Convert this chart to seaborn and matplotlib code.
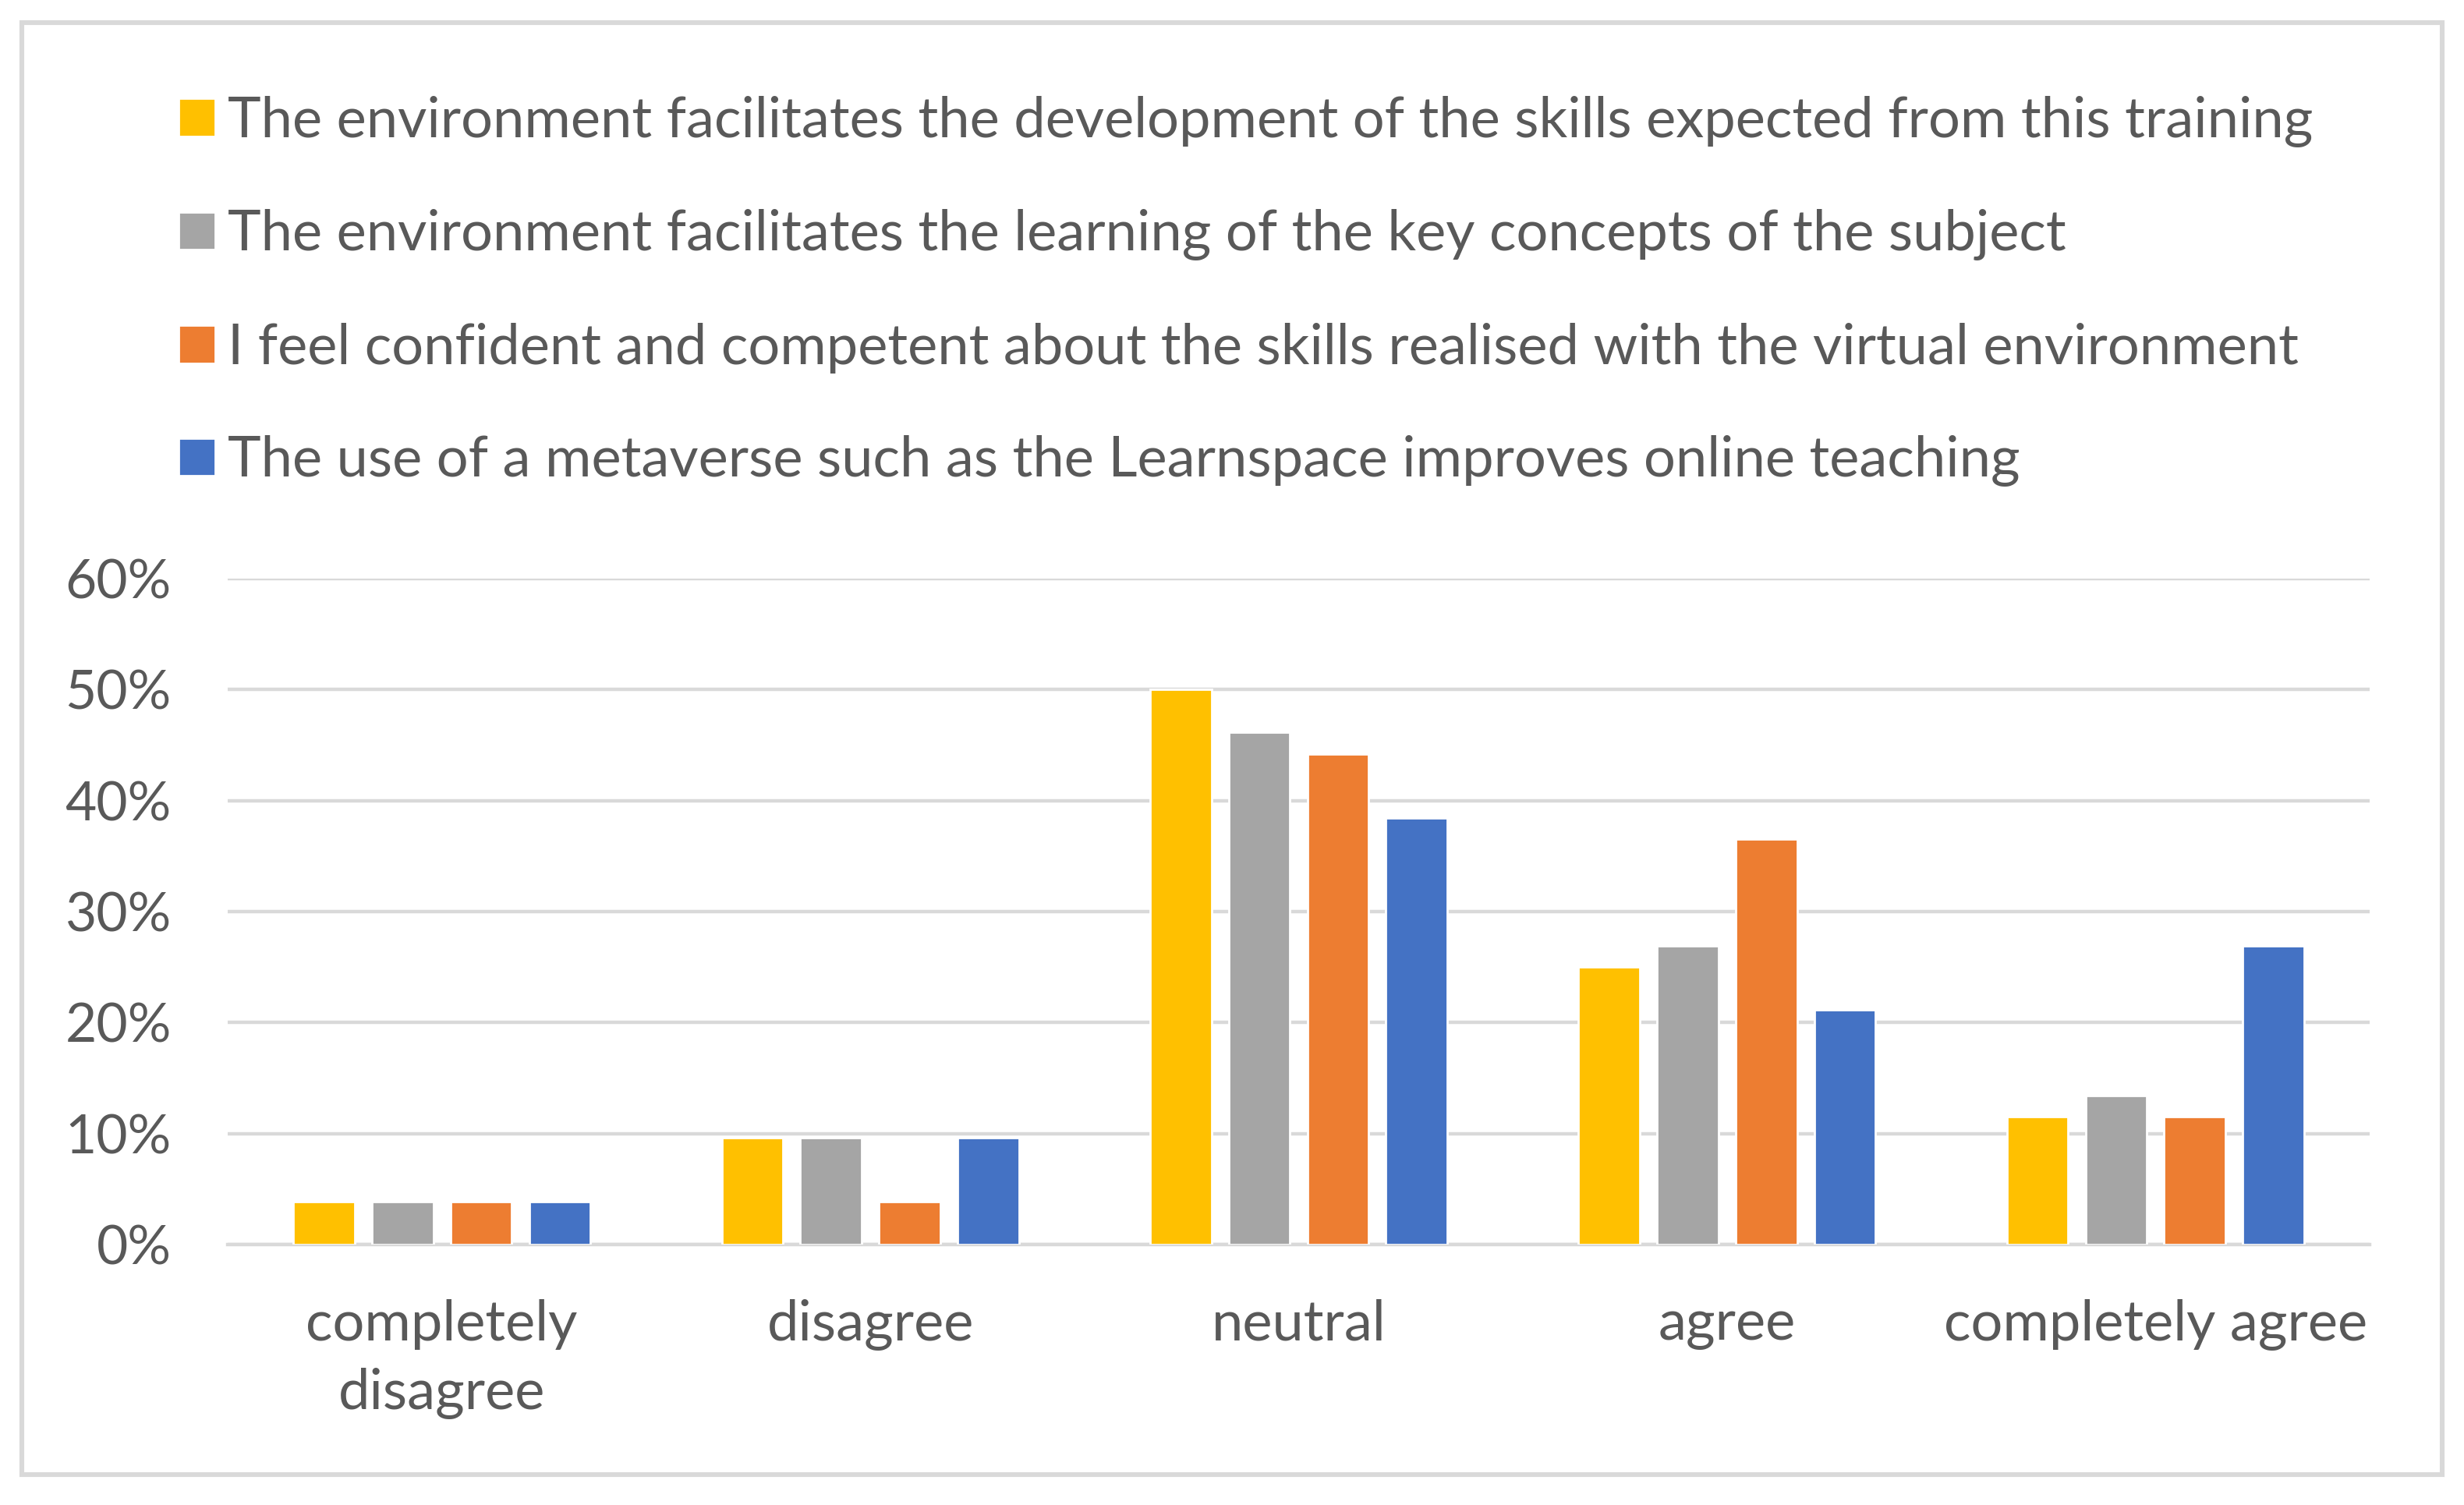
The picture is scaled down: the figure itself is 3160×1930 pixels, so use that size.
import pandas as pd
import matplotlib.pyplot as plt
import seaborn as sns
from matplotlib.patches import Rectangle
from matplotlib.ticker import PercentFormatter

categories = ["completely\ndisagree", "disagree", "neutral", "agree", "completely agree"]
series_names = [
    "The environment facilitates the development of the skills expected from this training",
    "The environment facilitates the learning of the key concepts of the subject",
    "I feel confident and competent about the skills realised with the virtual environment",
    "The use of a metaverse such as the Learnspace improves online teaching",
]
skills = [3.85, 9.62, 50.0, 25.0, 11.54]
concepts = [3.85, 9.62, 46.15, 26.92, 13.46]
confident = [3.85, 3.85, 44.23, 36.54, 11.54]
metaverse = [3.85, 9.62, 38.46, 21.15, 26.92]
colors = ["#FFC000", "#A5A5A5", "#ED7D31", "#4472C4"]

TEXT = "#595959"
GRID = "#D9D9D9"


def build_frame():
    rows = []
    for name, vals in zip(series_names, [skills, concepts, confident, metaverse]):
        for cat, v in zip(categories, vals):
            rows.append({"category": cat, "series": name, "value": v})
    return pd.DataFrame(rows)


def main():
    sns.set_style("white")
    plt.rcParams["font.family"] = ["Lato", "DejaVu Sans"]

    df = build_frame()
    fig = plt.figure(figsize=(15.8, 9.65), dpi=200)
    ax = fig.add_axes([0.0924, 0.173, 0.8693, 0.4425])

    sns.barplot(data=df, x="category", y="value", hue="series", order=categories,
                hue_order=series_names, palette=colors, width=0.734, gap=0.22,
                saturation=1, ax=ax, zorder=3)

    handles, labels = ax.get_legend_handles_labels()
    ax.get_legend().remove()

    ax.set_ylim(0, 60)
    ax.set_yticks(range(0, 61, 10))
    ax.yaxis.set_major_formatter(PercentFormatter(decimals=0))
    ax.grid(axis="y", color=GRID, linewidth=1.6, zorder=0)
    ax.set_xlabel("")
    ax.set_ylabel("")
    for s in ["top", "right", "left"]:
        ax.spines[s].set_visible(False)
    ax.spines["bottom"].set_color(GRID)
    ax.spines["bottom"].set_linewidth(1.6)
    ax.tick_params(axis="both", length=0, colors=TEXT)
    ax.tick_params(axis="x", pad=25, labelsize=26)
    ax.tick_params(axis="y", pad=26, labelsize=25)
    for t in ax.get_xticklabels():
        t.set_linespacing(1.45)

    fig.legend(handles, labels, loc="upper left", bbox_to_anchor=(0.052, 0.970),
               frameon=False, fontsize=26, labelcolor=TEXT, handlelength=0.65,
               handleheight=0.65, handletextpad=0.22, labelspacing=1.1)

    fig.patches.append(Rectangle((0.009, 0.02), 0.982, 0.965, transform=fig.transFigure,
                                 fill=False, edgecolor=GRID, linewidth=2.2))

    fig.savefig("out.png", dpi=200, facecolor="white")


if __name__ == "__main__":
    main()
